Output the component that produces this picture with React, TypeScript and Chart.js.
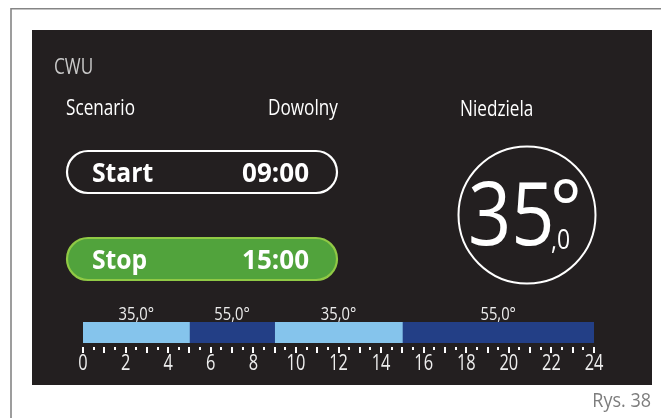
import React, { useEffect, useRef } from "react";
import { Chart, registerables } from "chart.js";

Chart.register(...registerables);

// ---- data ----
const titleLabel = "CWU";
const headerLabels = ["Scenario", "Dowolny", "Niedziela"];
const startLabel = "Start";
const startTime = "09:00";
const stopLabel = "Stop";
const stopTime = "15:00";
const currentTempInt = "35";
const currentTempDec = ",0";
const figureLabel = "Rys. 38";

const segmentStart = [0, 5, 9, 15];
const segmentEnd = [5, 9, 15, 24];
const segmentTemp = [35.0, 55.0, 35.0, 55.0];
const hourMin = 0;
const hourMax = 24;
const hourLabelStep = 2;

const LIGHT = "#85c4ec";
const DARK = "#233f86";
const PANEL = "#231f20";
const FONT = '"Open Sans", sans-serif';

function fmtTemp(v: number) {
  return v.toFixed(1).replace(".", ",") + "°";
}

function txt(
  ctx: CanvasRenderingContext2D,
  s: string,
  x: number,
  y: number,
  size: number,
  color: string,
  align: CanvasTextAlign = "left",
  sx = 1,
  weight = "normal"
) {
  ctx.save();
  ctx.translate(x, y);
  ctx.scale(sx, 1);
  ctx.font = `${weight} ${size}px ${FONT}`;
  ctx.fillStyle = color;
  ctx.textAlign = align;
  ctx.textBaseline = "alphabetic";
  ctx.fillText(s, 0, 0);
  ctx.restore();
}

function pill(ctx: CanvasRenderingContext2D, x: number, y: number, w: number, h: number, fill: string | null, stroke: string) {
  const r = h / 2;
  ctx.beginPath();
  ctx.moveTo(x + r, y);
  ctx.lineTo(x + w - r, y);
  ctx.arc(x + w - r, y + r, r, -Math.PI / 2, Math.PI / 2);
  ctx.lineTo(x + r, y + h);
  ctx.arc(x + r, y + r, r, Math.PI / 2, (3 * Math.PI) / 2);
  ctx.closePath();
  if (fill) {
    ctx.fillStyle = fill;
    ctx.fill();
  }
  ctx.lineWidth = 2.2;
  ctx.strokeStyle = stroke;
  ctx.stroke();
}

const decor = {
  id: "decor",
  beforeDraw(chart: any) {
    const ctx: CanvasRenderingContext2D = chart.ctx;
    ctx.save();
    ctx.fillStyle = "#ffffff";
    ctx.fillRect(0, 0, chart.width, chart.height);
    // frame lines
    ctx.strokeStyle = "#858585";
    ctx.lineWidth = 1.6;
    ctx.beginPath();
    ctx.moveTo(11, chart.height);
    ctx.lineTo(11, 8.8);
    ctx.lineTo(chart.width, 8.8);
    ctx.stroke();
    // panel
    ctx.fillStyle = PANEL;
    ctx.fillRect(32, 30, 620, 355);
    ctx.restore();
  },
  afterDraw(chart: any) {
    const ctx: CanvasRenderingContext2D = chart.ctx;
    ctx.save();
    // header
    txt(ctx, titleLabel, 54, 74, 22, "#c9c9c9", "left", 0.78);
    txt(ctx, headerLabels[0], 66, 115, 22, "#ffffff", "left", 0.78);
    txt(ctx, headerLabels[1], 268, 115, 22, "#ffffff", "left", 0.78);
    txt(ctx, headerLabels[2], 460, 116, 22, "#ffffff", "left", 0.78);
    // start / stop pills
    pill(ctx, 67, 151, 270, 42, null, "#ffffff");
    txt(ctx, startLabel, 92, 182, 26, "#ffffff", "left", 0.95, "bold");
    txt(ctx, startTime, 309, 182, 26, "#ffffff", "right", 1.0, "bold");
    pill(ctx, 67, 238, 270, 42, "#51a33c", "#90c945");
    txt(ctx, stopLabel, 92, 269, 26, "#ffffff", "left", 0.95, "bold");
    txt(ctx, stopTime, 309, 269, 26, "#ffffff", "right", 1.0, "bold");
    // temperature circle
    ctx.beginPath();
    ctx.arc(527, 215, 68.5, 0, Math.PI * 2);
    ctx.strokeStyle = "#ffffff";
    ctx.lineWidth = 2;
    ctx.stroke();
    txt(ctx, currentTempInt, 468, 245, 87, "#ffffff", "left", 0.87);
    txt(ctx, "°", 550, 236, 78, "#ffffff", "left", 0.95);
    txt(ctx, currentTempDec, 551, 249, 27, "#ffffff", "left", 0.85);
    // figure label
    txt(ctx, figureLabel, 651, 407, 20, "#7d7d7d", "right", 0.9);

    // segment value labels
    chart.data.datasets.forEach((ds: any, i: number) => {
      const el = chart.getDatasetMeta(i).data[0];
      if (!el) return;
      const cx = (el.x + el.base) / 2;
      txt(ctx, fmtTemp(segmentTemp[i]), cx, 320, 18, "#ececec", "center", 0.82);
    });

    // axis tick marks and labels from the x scale
    const xs = chart.scales.x;
    const yTop = chart.chartArea.bottom + 4;
    ctx.fillStyle = "#ffffff";
    xs.ticks.forEach((t: any) => {
      const px = xs.getPixelForValue(t.value);
      const major = Number.isInteger(t.value);
      ctx.fillRect(Math.round(px) - 1, yTop, 2, major ? 6 : 3);
      if (t.label !== "" && t.label != null) {
        txt(ctx, String(t.label), px, 370, 21, "#eeeeee", "center", 0.78);
      }
    });
    ctx.restore();
  },
};

export default function App() {
  const ref = useRef<HTMLCanvasElement | null>(null);
  useEffect(() => {
    if (!ref.current) return;
    const datasets = segmentStart.map((s, i) => ({
      label: fmtTemp(segmentTemp[i]),
      data: [[s, segmentEnd[i]]],
      backgroundColor: segmentTemp[i] < 45 ? LIGHT : DARK,
      borderWidth: 0,
      barPercentage: 1,
      categoryPercentage: 1,
    }));
    const chart = new Chart(ref.current, {
      type: "bar",
      data: { labels: ["day"], datasets: datasets as any },
      options: {
        indexAxis: "y",
        animation: false,
        responsive: false,
        grouped: false,
        layout: { padding: { left: 83, right: 67, top: 322, bottom: 67 } },
        plugins: { legend: { display: false }, tooltip: { enabled: false } },
        scales: {
          x: {
            type: "linear",
            min: hourMin,
            max: hourMax,
            ticks: {
              display: false,
              stepSize: 0.5,
              callback: (v: any) => (Number(v) % hourLabelStep === 0 ? String(v) : ""),
            },
            grid: { display: false },
            border: { display: false },
          },
          y: { display: false },
        },
      } as any,
      plugins: [decor],
    });
    return () => chart.destroy();
  }, []);
  return (
    <div style={{ position: "fixed", left: 0, top: 0, width: 661, height: 418 }}>
      <canvas ref={ref} width={661} height={418} style={{ display: "block", width: 661, height: 418 }} />
    </div>
  );
}
